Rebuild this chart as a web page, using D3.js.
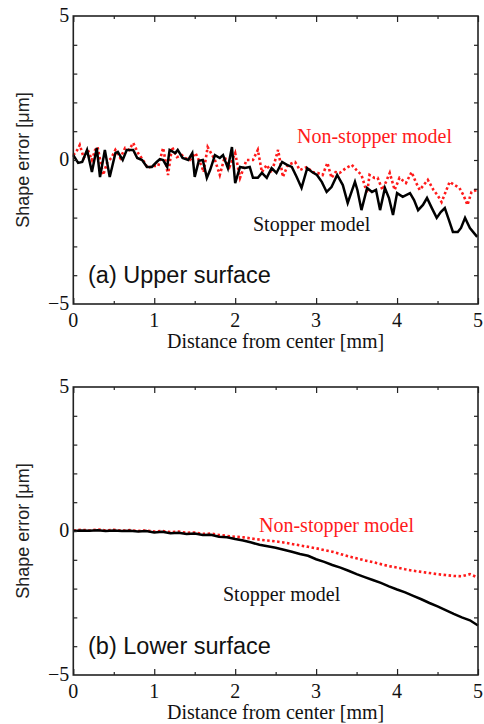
<!DOCTYPE html>
<html><head><meta charset="utf-8">
<script src="https://cdn.jsdelivr.net/npm/d3@7"></script>
<style>
html,body{margin:0;padding:0;background:#fff;}
svg{display:block;}
</style></head>
<body>
<script>
// ---- data ----
const xTicks = [0,1,2,3,4,5];
const xMinorTicks = [0.5,1.5,2.5,3.5,4.5];
const yTicks = [-5,0,5];
const yMinorTicks = [-4,-3,-2,-1,1,2,3,4];

const upperStopperX = [0,0.06,0.11,0.17,0.23,0.29,0.33,0.39,0.45,0.52,0.55,0.61,0.66,0.74,0.79,0.85,0.91,0.97,1.03,1.07,1.11,1.16,1.19,1.26,1.29,1.35,1.42,1.47,1.50,1.55,1.60,1.65,1.69,1.75,1.81,1.85,1.91,1.96,2.00,2.06,2.12,2.18,2.22,2.28,2.33,2.39,2.45,2.51,2.58,2.64,2.70,2.76,2.82,2.89,2.95,3.01,3.07,3.13,3.19,3.26,3.33,3.39,3.48,3.51,3.56,3.63,3.69,3.74,3.79,3.85,3.90,3.95,4.00,4.07,4.16,4.21,4.26,4.32,4.37,4.43,4.49,4.54,4.59,4.64,4.69,4.75,4.79,4.84,4.90,4.99];
const upperStopperY = [0.17,-0.10,-0.07,0.35,-0.42,0.42,-0.59,0.35,-0.59,0.24,0.28,0,0.35,0.35,0.07,0,-0.24,-0.24,-0.07,0.03,0,-0.24,0.35,0.24,0.35,0.07,0,0.24,-0.59,-0.03,0,-0.62,-0.35,0.17,0.07,0.17,-0.28,0.45,-0.80,-0.24,-0.28,-0.24,-0.62,-0.62,-0.45,-0.62,-0.28,-0.45,-0.07,-0.17,-0.24,-0.59,-0.97,-0.28,-0.42,-0.52,-0.76,-1.11,-0.94,-0.52,-0.87,-1.49,-0.76,-1.04,-1.74,-0.97,-1.11,-1.04,-1.74,-0.97,-1.32,-1.91,-1.15,-1.28,-1.15,-1.39,-1.74,-1.56,-1.32,-1.67,-2.01,-1.81,-1.67,-2.08,-2.50,-2.50,-2.36,-2.01,-2.36,-2.67];

const upperNonStopperX = [0,0.05,0.08,0.13,0.18,0.23,0.27,0.30,0.37,0.42,0.47,0.52,0.58,0.64,0.69,0.74,0.80,0.86,0.92,0.98,1.05,1.11,1.17,1.22,1.28,1.34,1.38,1.44,1.51,1.59,1.61,1.66,1.75,1.81,1.87,1.93,2.00,2.06,2.14,2.22,2.28,2.33,2.39,2.45,2.53,2.59,2.65,2.74,2.80,2.89,2.95,3.02,3.08,3.14,3.19,3.24,3.29,3.37,3.44,3.50,3.56,3.63,3.66,3.72,3.76,3.82,3.91,3.97,4.03,4.11,4.18,4.23,4.28,4.38,4.45,4.50,4.55,4.60,4.65,4.71,4.77,4.82,4.87,4.92,4.98];
const upperNonStopperY = [0.17,0.35,0.52,0.07,0.35,0,0.35,0.45,-0.52,-0.07,0.07,0.35,0.07,0.42,0.35,0.59,0.24,0,-0.28,-0.21,-0.21,0.42,-0.52,0.45,0.10,0.17,0.07,0,0.24,-0.24,-0.42,0.45,0,-0.52,0.10,-0.24,0.24,-0.62,0,0,0.35,-0.42,-0.17,-0.45,0.35,-0.59,-0.17,-0.07,-0.35,-0.24,-0.42,-0.45,-0.52,-0.10,-0.62,-0.42,-0.45,-0.28,-0.17,-0.35,-0.52,-1.15,-0.52,-0.62,-0.62,-1.04,-0.45,-1.04,-0.62,-0.80,-0.42,-0.76,-1.04,-0.69,-1.04,-1.22,-1.46,-1.11,-0.76,-0.87,-0.97,-1.22,-1.56,-1.11,-1.04];

const lowerX = [0,0.1,0.2,0.3,0.4,0.5,0.6,0.7,0.8,0.9,1.0,1.1,1.2,1.3,1.4,1.5,1.6,1.7,1.8,1.9,2.0,2.1,2.2,2.3,2.4,2.5,2.6,2.7,2.8,2.9,3.0,3.1,3.2,3.3,3.4,3.5,3.6,3.7,3.8,3.9,4.0,4.1,4.2,4.3,4.4,4.5,4.6,4.7,4.8,4.9,5.0];
const lowerStopperY = [0.00,0.02,0.01,0.03,0.00,0.02,0.00,0.01,-0.02,0.00,-0.05,-0.03,-0.08,-0.06,-0.10,-0.09,-0.14,-0.13,-0.20,-0.22,-0.28,-0.33,-0.40,-0.48,-0.53,-0.58,-0.65,-0.72,-0.80,-0.86,-0.98,-1.07,-1.18,-1.27,-1.38,-1.50,-1.60,-1.70,-1.80,-1.92,-2.03,-2.13,-2.25,-2.37,-2.50,-2.62,-2.75,-2.88,-3.00,-3.10,-3.28];
const lowerNonStopperY = [0.02,0.04,0.02,0.05,0.02,0.04,0.01,0.03,0.00,0.02,-0.02,0.00,-0.04,-0.02,-0.06,-0.05,-0.10,-0.09,-0.14,-0.17,-0.20,-0.22,-0.26,-0.30,-0.33,-0.36,-0.40,-0.45,-0.50,-0.55,-0.60,-0.66,-0.72,-0.80,-0.88,-0.95,-1.02,-1.08,-1.15,-1.22,-1.27,-1.33,-1.38,-1.42,-1.46,-1.50,-1.53,-1.56,-1.57,-1.50,-1.62];

// ---- drawing ----
const W = 484, H = 724;
const svg = d3.select("body").append("svg").attr("width", W).attr("height", H);
const serif = "'Liberation Serif','Times New Roman',serif";
const sans = "'Liberation Sans',Arial,sans-serif";

function zip(xs, ys){ return xs.map((x,i)=>[x, ys[i]]); }

const panels = [
  {top:16, bottom:304, label:"(a) Upper surface", labelY:283,
   stopper: zip(upperStopperX, upperStopperY), non: zip(upperNonStopperX, upperNonStopperY),
   nonText:[297,143], stopText:[253,231]},
  {top:387, bottom:675, label:"(b) Lower surface", labelY:654,
   stopper: zip(lowerX, lowerStopperY), non: zip(lowerX, lowerNonStopperY),
   nonText:[259,532], stopText:[223,601]}
];
const left = 73.3, right = 478;

panels.forEach(p => {
  const x = d3.scaleLinear().domain([0,5]).range([left, right]);
  const y = d3.scaleLinear().domain([-5,5]).range([p.bottom, p.top]);
  const g = svg.append("g");

  // lines
  const line = d3.line().x(d=>x(d[0])).y(d=>y(d[1]));
  g.append("path").datum(p.non).attr("d", line)
    .attr("fill","none").attr("stroke","#ff1a1a").attr("stroke-width",2.6)
    .attr("stroke-dasharray","2.5,2.5");
  g.append("path").datum(p.stopper).attr("d", line)
    .attr("fill","none").attr("stroke","#000").attr("stroke-width",2.5)
    .attr("stroke-linejoin","miter");

  // axes (inward ticks)
  const axStyle = sel => {
    sel.select(".domain").remove();
    sel.selectAll("line").attr("stroke","#222").attr("stroke-width",1.2);
    sel.selectAll("text").remove();
  };
  g.append("g").attr("transform",`translate(0,${p.bottom})`)
    .call(d3.axisBottom(x).tickValues(xTicks).tickSize(-6)).call(axStyle);
  g.append("g").attr("transform",`translate(0,${p.bottom})`)
    .call(d3.axisBottom(x).tickValues(xMinorTicks).tickSize(-3)).call(axStyle);
  g.append("g").attr("transform",`translate(0,${p.top})`)
    .call(d3.axisTop(x).tickValues(xTicks).tickSize(-6)).call(axStyle);
  g.append("g").attr("transform",`translate(0,${p.top})`)
    .call(d3.axisTop(x).tickValues(xMinorTicks).tickSize(-3)).call(axStyle);
  g.append("g").attr("transform",`translate(${left},0)`)
    .call(d3.axisLeft(y).tickValues(yMinorTicks.concat([0])).tickSize(-4)).call(axStyle);
  g.append("g").attr("transform",`translate(${right},0)`)
    .call(d3.axisRight(y).tickValues(yMinorTicks.concat([0])).tickSize(-4)).call(axStyle);

  // frame
  g.append("rect").attr("x", left).attr("y", p.top)
    .attr("width", right-left).attr("height", p.bottom-p.top)
    .attr("fill","none").attr("stroke","#222").attr("stroke-width",1.6);

  // tick labels
  g.selectAll(".xt").data(xTicks).enter().append("text")
    .attr("x", d=>x(d)).attr("y", p.bottom+23).attr("text-anchor","middle")
    .attr("font-family", serif).attr("font-size",20).attr("fill","#111")
    .text(d=>d);
  g.selectAll(".yt").data(yTicks).enter().append("text")
    .attr("x", left-4).attr("y", d=>y(d)+6).attr("text-anchor","end")
    .attr("font-family", serif).attr("font-size",20).attr("fill","#111")
    .text(d=> d<0 ? "\u2212"+Math.abs(d) : d);

  // axis titles
  g.append("text").attr("x",(left+right)/2).attr("y", p.bottom+44)
    .attr("text-anchor","middle").attr("font-family", serif).attr("font-size",20)
    .attr("fill","#111").text("Distance from center [mm]");
  const cy = (p.top+p.bottom)/2;
  g.append("text").attr("transform",`translate(29,${cy}) rotate(-90)`)
    .attr("text-anchor","middle").attr("font-family", sans).attr("font-size",18)
    .attr("fill","#222").text("Shape error [\u03bcm]");

  // annotations
  g.append("text").attr("x",p.nonText[0]).attr("y",p.nonText[1])
    .attr("font-family", serif).attr("font-size",20).attr("fill","#ff1a1a")
    .text("Non-stopper model");
  g.append("text").attr("x",p.stopText[0]).attr("y",p.stopText[1])
    .attr("font-family", serif).attr("font-size",20).attr("fill","#111")
    .text("Stopper model");
  g.append("text").attr("x",88).attr("y",p.labelY)
    .attr("font-family", sans).attr("font-size",23.5).attr("fill","#111")
    .text(p.label);
});
</script>
</body></html>
